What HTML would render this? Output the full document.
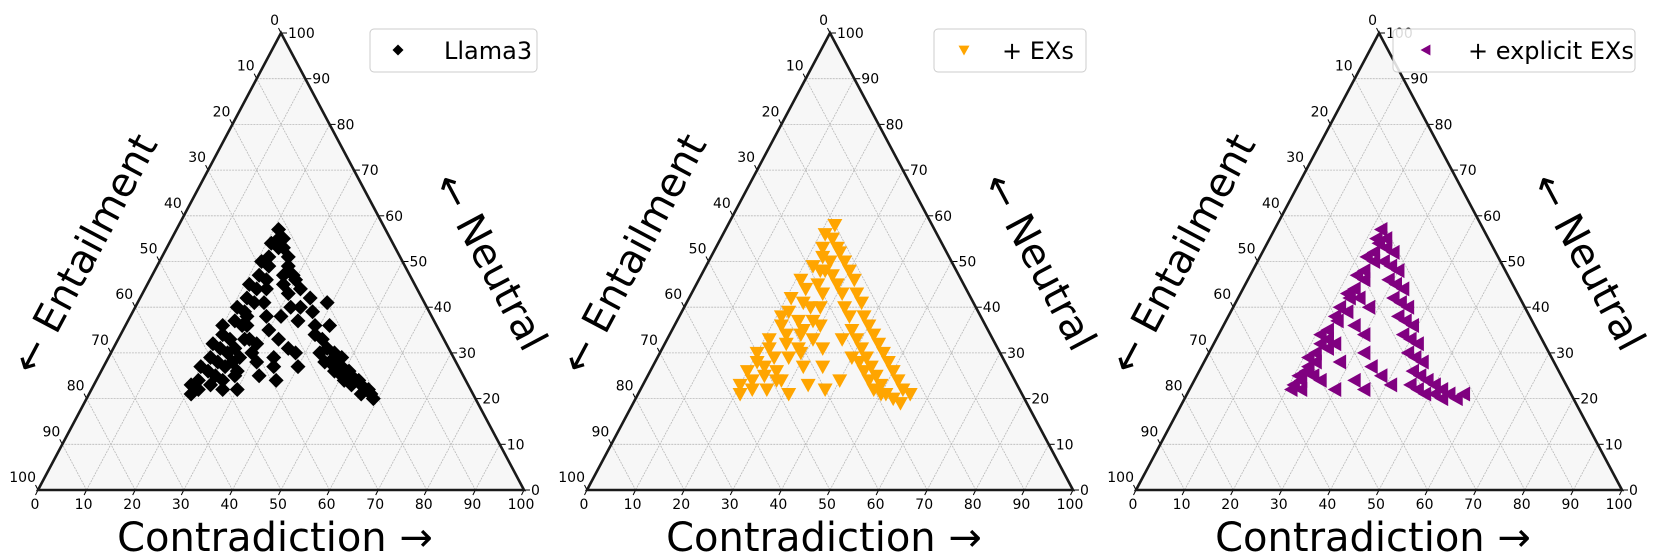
<!DOCTYPE html>
<html><head><meta charset="utf-8"><style>
html,body{margin:0;padding:0;background:#fff}
svg{display:block;font-family:"DejaVu Sans","Liberation Sans",sans-serif}
</style></head><body>
<svg id="chart" width="1661" height="554" viewBox="0 0 1661 554" xmlns="http://www.w3.org/2000/svg"></svg>
<script>
// data: [contradiction, neutral] (entailment = 100 - c - n)
const seriesNames = ["Llama3", "+ EXs", "+ explicit EXs"];
const llama3Points = [
[21,57],[22,55],[21,54],[23,53],[22,51],[21,50],[23,49],[22,47],[24,46],[21,45],[23,44],[22,42],[24,41],[21,40],[23,39],[22,37],[20,36],[24,36],[21,34],[23,33],[20,32],[22,31],[25,31],[21,29],[23,28],[20,27],[22,26],[24,25],[21,24],[20,23],[22,22],[21,21],[24,23],[26,24],[25,27],[27,29],[26,33],[24,30],[28,26],
[23,55],[24,53],[26,51],[27,49],[29,47],[30,46],[32,44],[35,42],[34,40],[37,39],[39,36],[40,34],[42,33],[44,31],[46,30],[47,28],[49,27],[51,26],[52,25],[54,24],[55,23],[57,22],[58,21],[53,23],[50,25],[48,29],[45,28],[43,30],[56,21],[59,20],[51,24],[48,26],[46,28],
[28,45],[30,43],[26,41],[32,40],[28,38],[35,37],[25,36],[30,35],[33,33],[27,33],[36,31],[24,38],[29,30],[38,30],[31,28],[26,28],[35,27],[40,27],[28,25],[33,25],[37,24],[27,22],[30,22],[42,36],[39,41],[25,44],[27,47],[31,38],[29,32],[34,29]];
const exsPoints = [
[22,58],[21,56],[23,55],[22,53],[25,53],[23,51],[25,50],[22,49],[24,48],[27,47],[21,46],[25,45],[23,44],[27,43],[21,42],[24,41],[26,40],[22,39],[21,38],[25,37],[28,37],[22,36],[24,34],[27,34],[21,33],[25,32],[22,31],[28,31],[20,30],[24,29],[27,29],[21,28],[23,27],[26,26],[20,26],[24,25],[22,24],[27,24],[20,23],[23,22],[26,22],[21,21],
[26,52],[28,50],[25,48],[30,48],[29,45],[32,46],[31,43],[34,43],[33,40],[36,41],[35,38],[38,38],[37,35],[40,36],[39,33],[42,34],[41,31],[44,32],[43,29],[46,30],[45,27],[48,28],[47,25],[50,26],[49,23],[52,24],[51,21],[54,22],[53,20],[56,21],[55,19],[44,26],[40,29],[48,22],[36,33],[46,24],[42,28],[50,21],
[28,40],[30,36],[27,35],[33,31],[29,30],[35,27],[31,27],[28,24],[34,23],[38,22],[31,21],[40,24],[30,33]];
const explicitPoints = [
[22,57],[22,55],[23,54],[23,52],[22,51],[24,50],[23,48],[22,47],[24,46],[23,44],[22,43],[23,42],[22,40],[24,39],[22,38],[23,37],[22,35],[21,34],[23,33],[22,32],[22,30],[21,29],[23,28],[22,27],[22,26],[21,25],[22,24],[21,23],[23,22],[21,22],[24,31],[24,25],
[24,55],[25,53],[27,52],[26,50],[28,49],[30,48],[29,46],[31,45],[33,44],[32,42],[34,41],[36,40],[35,38],[37,37],[39,36],[38,34],[40,33],[42,32],[41,30],[43,29],[45,28],[44,26],[46,25],[48,24],[47,22],[50,23],[52,22],[51,21],[54,21],[56,20],[57,21],[53,20],[49,21],[45,23],
[25,42],[28,40],[27,36],[30,34],[25,32],[32,30],[28,28],[35,27],[26,24],[33,24],[38,25],[30,22],[41,23],[36,22]];
const tickValues = [0,10,20,30,40,50,60,70,80,90,100];

const NS = "http://www.w3.org/2000/svg";
const svg = document.getElementById("chart");
function mk(tag, attrs, parent){const e=document.createElementNS(NS,tag);for(const k in attrs)e.setAttribute(k,attrs[k]);(parent||svg).appendChild(e);return e;}

const W = 486, H = 457, BY = 490;
const panels = [
 {x0:38, pts:llama3Points, color:"#000000", marker:"diamond", name:seriesNames[0], slug:"llama3", legL:370, mOff:28, tOff:74},
 {x0:587, pts:exsPoints, color:"#FFA500", marker:"down", name:seriesNames[1], slug:"exs", legL:934, mOff:30, tOff:68},
 {x0:1136, pts:explicitPoints, color:"#800080", marker:"left", name:seriesNames[2], slug:"explicit-exs", legL:1393, mOff:33, tOff:75}
];

function markerPath(type, x, y, s){
  if(type==="diamond") return `M${x},${y-s} L${x+s},${y} L${x},${y+s} L${x-s},${y} Z`;
  if(type==="down") return `M${x-s},${y-s*0.8} L${x+s},${y-s*0.8} L${x},${y+s} Z`;
  return `M${x-s},${y} L${x+s*0.8},${y-s} L${x+s*0.8},${y+s} Z`;
}

panels.forEach((p, pi) => {
  const g = mk("g", {});
  
  
  const X = (c,n) => p.x0 + (c + n/2)/100*W;
  const Y = (c,n) => BY - n/100*H;
  const bg = mk("path", {d:`M${X(0,0)},${Y(0,0)} L${X(100,0)},${Y(100,0)} L${X(0,100)},${Y(0,100)} Z`, fill:"#f7f7f7"}, g);
  
  
  const grid = mk("g", {stroke:"#b8b8b8","stroke-width":"0.8","stroke-dasharray":"2,1",fill:"none"}, g);
  
  
  tickValues.slice(1,-1).forEach(k => {
    mk("line", {x1:X(0,k),y1:Y(0,k),x2:X(100-k,k),y2:Y(100-k,k)}, grid);
    mk("line", {x1:X(k,0),y1:Y(k,0),x2:X(k,100-k),y2:Y(k,100-k)}, grid);
    mk("line", {x1:X(100-k,0),y1:Y(100-k,0),x2:X(0,100-k),y2:Y(0,100-k)}, grid);
  });
  const tg = mk("g", {"font-size":"14", fill:"#000"}, g);
  
  
  tickValues.forEach(k => {
    let bx = X(k,0), by = Y(k,0);
    mk("line", {x1:bx,y1:by,x2:bx-2.5,y2:by+5,stroke:"#000","stroke-width":"1"}, tg);
    const tb = mk("text", {x:bx-3, y:by+19, "text-anchor":"middle"}, tg); tb.textContent = k;
    let lx = X(0,100-k), ly = Y(0,100-k);
    mk("line", {x1:lx,y1:ly,x2:lx-2.5,y2:ly-5,stroke:"#000","stroke-width":"1"}, tg);
    const tl = mk("text", {x:lx-2, y:ly-8, "text-anchor":"end"}, tg); tl.textContent = k;
    let rx = X(100-k,k), ry = Y(100-k,k);
    mk("line", {x1:rx,y1:ry,x2:rx+6,y2:ry,stroke:"#000","stroke-width":"1"}, tg);
    const tr = mk("text", {x:rx+7, y:ry+5, "text-anchor":"start"}, tg); tr.textContent = k;
  });
  const fr = mk("path", {d:`M${X(0,0)},${Y(0,0)} L${X(100,0)},${Y(100,0)} L${X(0,100)},${Y(0,100)} Z`, fill:"none", stroke:"#1a1a1a","stroke-width":"2.6","stroke-linejoin":"miter"}, g);
  
  
  const pg = mk("g", {fill:p.color}, g);
  
  
  p.pts.forEach(pt => {
    const m = mk("path", {d:markerPath(p.marker, X(pt[0],pt[1]), Y(pt[0],pt[1]), 7.5)}, pg);
    
    
  });
  const cx = p.x0 + W/2;
  const tC = mk("text", {x:cx-6, y:551, "text-anchor":"middle", "font-size":"40"}, g);
  tC.textContent = "Contradiction →";
  
  
  const ex = p.x0 + 47, ey = 254;
  const tE = mk("text", {x:ex, y:ey, "text-anchor":"middle", "dominant-baseline":"central", "font-size":"40", transform:`rotate(-62 ${ex} ${ey})`}, g);
  tE.textContent = "← Entailment";
  
  
  const nx = p.x0 + 452, ny = 262;
  const tN = mk("text", {x:nx, y:ny, "text-anchor":"middle", "dominant-baseline":"central", "font-size":"40", transform:`rotate(62 ${nx} ${ny})`}, g);
  tN.textContent = "← Neutral";
  
  
  const lg = mk("g", {}, g);
  
  
  const right = p.x0 + 499;
  mk("rect", {x:p.legL, y:29, width:right-p.legL, height:43, rx:4, fill:"#fff", "fill-opacity":"0.85", stroke:"#cccccc", "stroke-width":"1"}, lg);
  const lm = mk("path", {d:markerPath(p.marker, p.legL+p.mOff, 50, 5.5), fill:p.color}, lg);
  
  
  const lt = mk("text", {x:p.legL+p.tOff, y:59, "font-size":"24", fill:"#000"}, lg);
  lt.textContent = p.name;
  
  
});
</script>
</body></html>
